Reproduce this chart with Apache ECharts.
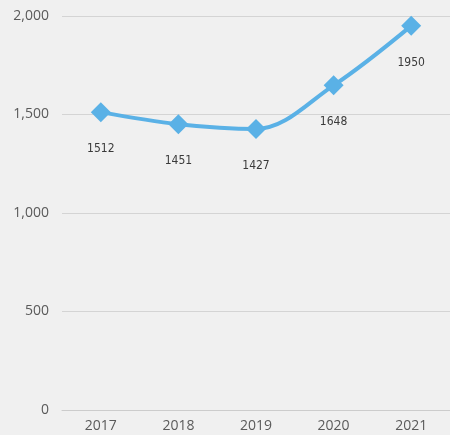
<!DOCTYPE html>
<html><head><meta charset="utf-8">
<script src="https://cdn.jsdelivr.net/npm/echarts@6/dist/echarts.min.js"></script>
<style>html,body{margin:0;padding:0;background:#f0f0f0;}#c{width:450px;height:435px;}</style>
</head><body><div id="c"></div>
<script>
const categories = ['2017','2018','2019','2020','2021'];
const values = [1512, 1451, 1427, 1648, 1950];
const yTicks = [0, 500, 1000, 1500, 2000];

const chart = echarts.init(document.getElementById('c'));
chart.setOption({
  backgroundColor: '#f0f0f0',
  animation: false,
  grid: { left: 62, top: 16, width: 395, bottom: 25, containLabel: false },
  xAxis: {
    type: 'category', data: categories,
    axisLine: { lineStyle: { color: '#cccccc', width: 1 } },
    axisTick: { show: false },
    axisLabel: { color: '#5a5a5a', fontSize: 14, fontFamily: 'Open Sans', margin: 9 }
  },
  yAxis: {
    type: 'value', min: yTicks[0], max: yTicks[yTicks.length-1], interval: 500,
    axisLine: { show: false }, axisTick: { show: false },
    splitLine: { lineStyle: { color: '#d4d4d4', width: 1 } },
    axisLabel: { color: '#5a5a5a', fontSize: 14, fontFamily: 'Open Sans', margin: 13,
      formatter: v => v.toLocaleString('en-US') }
  },
  series: [{
    type: 'line', data: values, smooth: 0.35,
    symbol: 'diamond', symbolSize: 20,
    lineStyle: { color: '#5ab1e6', width: 4 },
    itemStyle: { color: '#5ab1e6' },
    label: { show: true, position: 'bottom', distance: 21, color: '#3a3a3a',
      fontSize: 12, fontFamily: '"DejaVu Sans Condensed"' }
  }]
});
</script></body></html>
